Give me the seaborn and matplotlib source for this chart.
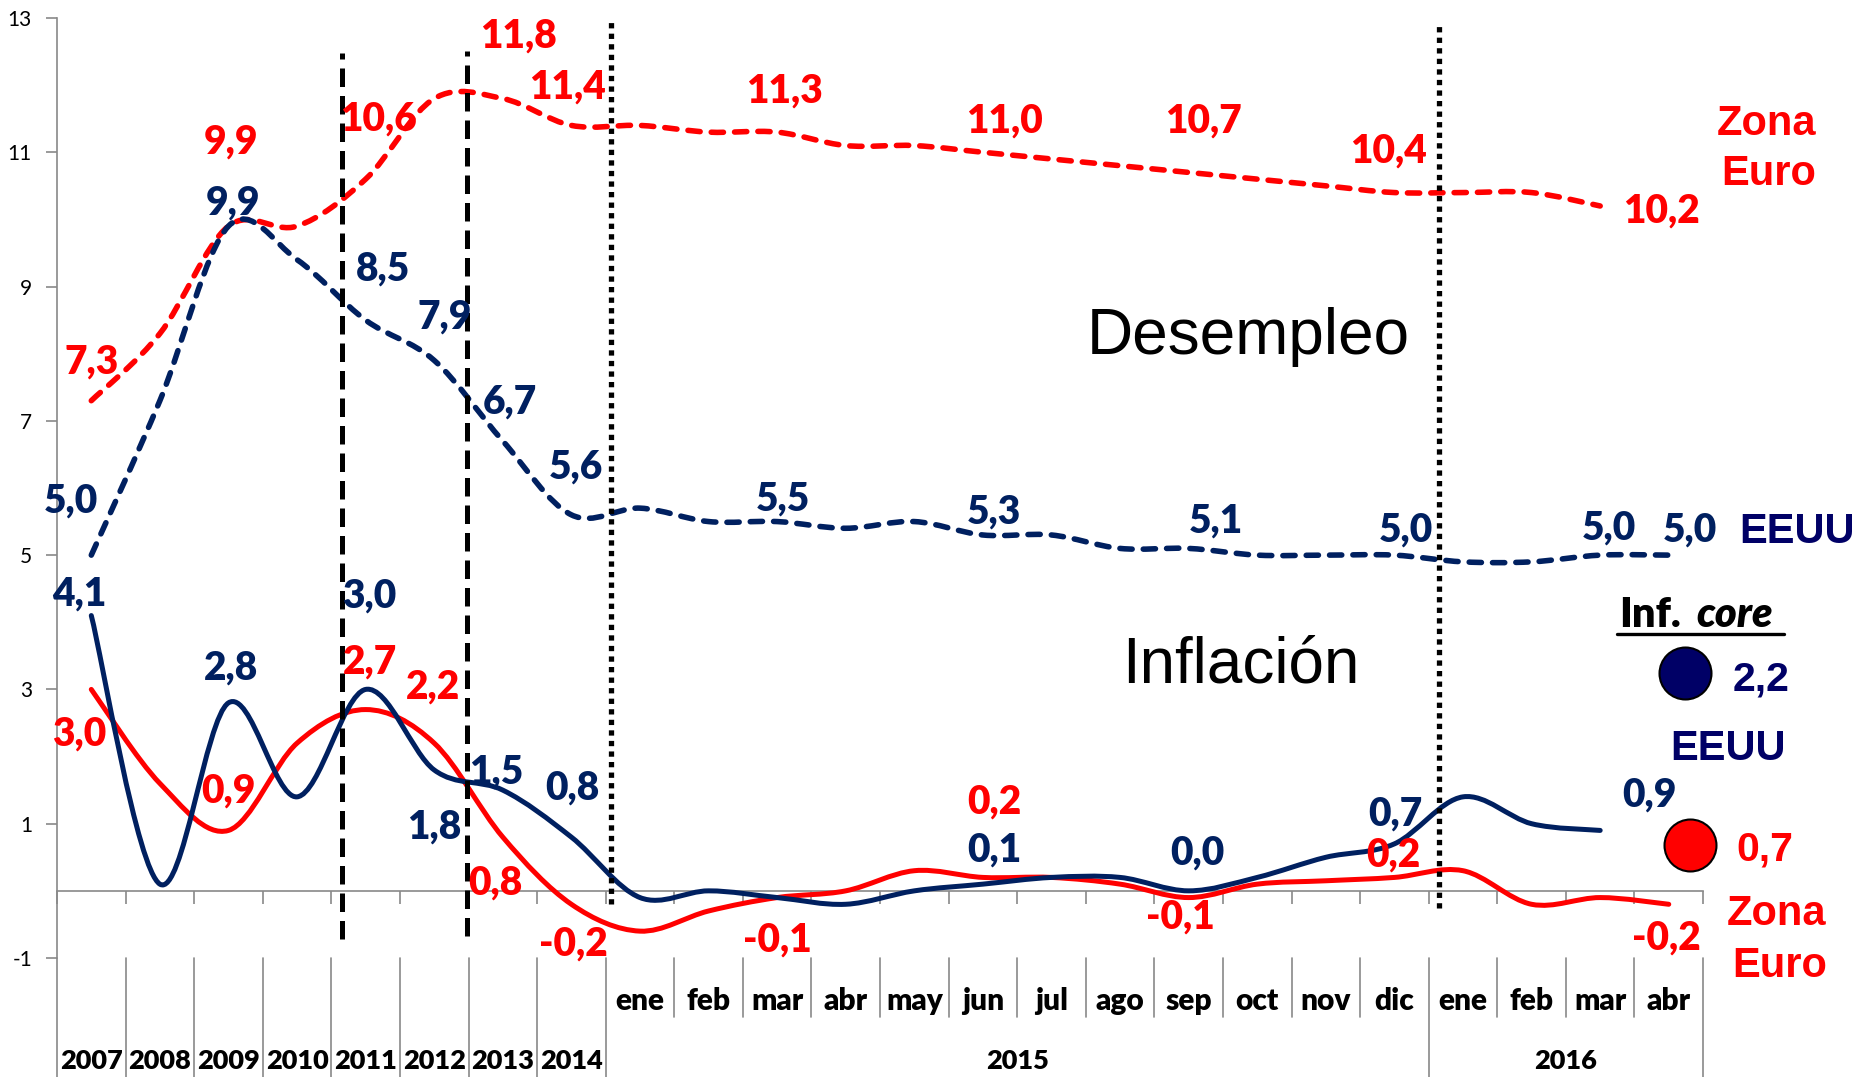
import matplotlib
matplotlib.use("Agg")
import matplotlib.pyplot as plt
import matplotlib.transforms as mtransforms
import numpy as np
import pandas as pd
import seaborn as sns
from matplotlib.lines import Line2D
from matplotlib.patches import PathPatch
from matplotlib.path import Path

# -------------------------------------------------------------------
# datos (diciembre de cada año 2007-2014, luego mensual)
# -------------------------------------------------------------------
anios = ["2007", "2008", "2009", "2010", "2011", "2012", "2013", "2014"]
meses_2015 = ["ene", "feb", "mar", "abr", "may", "jun", "jul", "ago", "sep", "oct", "nov", "dic"]
meses_2016 = ["ene", "feb", "mar", "abr"]
categorias = anios + meses_2015 + meses_2016

desempleo_ze = [7.3, 8.3, 9.9, 9.9, 10.6, 11.8, 11.8, 11.4,
                11.4, 11.3, 11.3, 11.1, 11.1, 11.0, 10.9, 10.8, 10.7, 10.6, 10.5, 10.4,
                10.4, 10.4, 10.2]
desempleo_us = [5.0, 7.3, 9.9, 9.4, 8.5, 7.9, 6.7, 5.6,
                5.7, 5.5, 5.5, 5.4, 5.5, 5.3, 5.3, 5.1, 5.1, 5.0, 5.0, 5.0,
                4.9, 4.9, 5.0, 5.0]
inflacion_us = [4.1, 0.1, 2.8, 1.4, 3.0, 1.8, 1.5, 0.8,
                -0.1, 0.0, -0.1, -0.2, 0.0, 0.1, 0.2, 0.2, 0.0, 0.2, 0.5, 0.7,
                1.4, 1.0, 0.9]
inflacion_ze = [3.0, 1.6, 0.9, 2.2, 2.7, 2.2, 0.8, -0.2,
                -0.6, -0.3, -0.1, 0.0, 0.3, 0.2, 0.2, 0.1, -0.1, 0.1, 0.15, 0.2,
                0.3, -0.2, -0.1, -0.2]
core_us = 2.2
core_ze = 0.7

NAVY = "#002060"
NAVY2 = "#000066"
ROJO = "#FF0000"
GRIS = "#898989"

# -------------------------------------------------------------------
# etiquetas: índice -> desplazamiento (px) del centro del texto
# -------------------------------------------------------------------
etiquetas = {
    "des_ze": {0: (0, 41), 2: (3, 87), 4: (13, 63), 6: (16, 65), 7: (-4, 41), 10: (7, 44),
               13: (22, 34), 16: (15, 54), 19: (-6, 44), 22: (61, -3)},
    "des_us": {0: (-20, 57), 2: (5, 26), 4: (17, 54), 5: (10, 46), 6: (7, 41), 7: (5, 50),
               10: (6, 25), 13: (11, 25), 16: (27, 30), 19: (11, 28), 22: (9, 30), 23: (21, 28)},
    "inf_us": {0: (-12, 24), 2: (3, 37), 4: (4, 96), 5: (0, -55), 6: (-7, 21), 7: (1, 52),
               13: (11, 37), 16: (9, 40), 19: (1, 32), 22: (49, 38)},
    "inf_ze": {0: (-12, -42), 2: (0, 42), 4: (4, 50), 5: (-1, 59), 6: (-7, -43), 7: (2, -37),
               10: (0, -40), 13: (11, 78), 16: (-8, -17), 19: (-1, 25), 23: (-2, -31)},
}

series = [
    ("des_ze", desempleo_ze, ROJO, "dashed"),
    ("des_us", desempleo_us, NAVY, "dashed"),
    ("inf_ze", inflacion_ze, ROJO, "solid"),
    ("inf_us", inflacion_us, NAVY, "solid"),
]

df = pd.concat(
    [pd.DataFrame({"serie": nombre, "x": np.arange(len(vals)), "valor": vals})
     for nombre, vals, _, _ in series],
    ignore_index=True,
)


def smooth_path(xs, ys):
    """curva suavizada tipo Excel (Bezier Catmull-Rom)"""
    pts = np.column_stack([xs, ys]).astype(float)
    n = len(pts)
    verts, codes = [pts[0]], [Path.MOVETO]
    for i in range(n - 1):
        p0, p1 = pts[max(i - 1, 0)], pts[i]
        p2, p3 = pts[i + 1], pts[min(i + 2, n - 1)]
        verts += [p1 + (p2 - p0) / 6, p2 - (p3 - p1) / 6, p2]
        codes += [Path.CURVE4] * 3
    return Path(verts, codes)


def fmt(v):
    return f"{v:.1f}".replace(".", ",")


sns.set_theme(style="white")
plt.rcParams["font.family"] = ["Lato", "DejaVu Sans"]
plt.rcParams["axes.unicode_minus"] = False
plt.rcParams["text.color"] = "black"

DPI = 100
fig = plt.figure(figsize=(18.72, 10.77), dpi=DPI)
ax = fig.add_axes([0.03045, 0.1105, 0.8793, 0.8728])
ax.set_xlim(-0.5, len(categorias) - 0.5)
ax.set_ylim(-1, 13)

# ejes estilo Excel
for s in ["top", "right"]:
    ax.spines[s].set_visible(False)
ax.spines["left"].set_color(GRIS)
ax.spines["left"].set_linewidth(1.2)
ax.spines["bottom"].set_position(("data", 0))
ax.spines["bottom"].set_color(GRIS)
ax.spines["bottom"].set_linewidth(1.2)
ax.set_yticks(range(-1, 14, 2))
ax.set_yticklabels([str(t) for t in range(-1, 14, 2)])
ax.tick_params(axis="y", length=8, width=1.2, color=GRIS, labelsize=15, pad=10,
               direction="out", labelcolor="black", left=True)
ax.set_xticks(np.arange(-0.5, len(categorias), 1))
ax.tick_params(axis="x", length=9, width=1.2, color=GRIS, direction="out",
               labelbottom=False, bottom=True)
ax.grid(False)

# líneas suavizadas
for nombre, vals, color, estilo in series:
    sub = df[df["serie"] == nombre]
    if estilo == "dashed":
        patch = PathPatch(smooth_path(sub["x"], sub["valor"]), fill=False, edgecolor=color,
                          lw=4.0, linestyle=(0, (2.2, 2.0)), capstyle="round", zorder=3)
    else:
        patch = PathPatch(smooth_path(sub["x"], sub["valor"]), fill=False, edgecolor=color,
                          lw=3.6, capstyle="round", joinstyle="round", zorder=3)
    ax.add_patch(patch)

# líneas verticales de referencia
for xv, y0, y1 in [(3.658, -0.72, 12.48), (5.475, -0.67, 12.51)]:
    ax.plot([xv, xv], [y0, y1], color="black", lw=3.6, linestyle=(0, (3.7, 1.8)),
            solid_capstyle="butt", dash_capstyle="butt", zorder=4)
for xv, y0, y1 in [(7.578, -0.20, 12.99), (19.644, -0.25, 12.93)]:
    ax.plot([xv, xv], [y0, y1], color="black", lw=3.8, linestyle=(0, (1.0, 1.0)),
            dash_capstyle="butt", zorder=4)

# etiquetas de datos
LBL = 28
em_px = LBL * DPI / 72
for nombre, vals, color, _ in series:
    for i, (dx, dy) in etiquetas[nombre].items():
        ax.annotate(fmt(vals[i]), xy=(i, vals[i]), xytext=(dx, dy - 0.36 * em_px),
                    textcoords="offset pixels", ha="center", va="baseline",
                    fontsize=LBL, fontweight="heavy", color=color, zorder=6)

# eje de categorías en dos niveles
trans = mtransforms.blended_transform_factory(ax.transData, ax.transAxes)
n = len(categorias)
largos = set(range(0, 9)) | {20, 24}
for b in range(n + 1):
    y_fin = -0.1266 if b in largos else -0.0628
    ax.add_line(Line2D([b - 0.5, b - 0.5], [0, y_fin], transform=trans, color=GRIS,
                       lw=1.2, clip_on=False))
for i, lab in enumerate(categorias):
    es_anio = i < len(anios)
    ax.text(i, -0.1181 if es_anio else -0.0553, lab, transform=trans, ha="center",
            va="baseline", fontsize=19.5 if es_anio else 21.5, fontweight="heavy",
            color="black")
for lab, i0, i1 in [("2015", 8, 19), ("2016", 20, 23)]:
    ax.text((i0 + i1) / 2, -0.1181, lab, transform=trans, ha="center", va="baseline",
            fontsize=19.5, fontweight="heavy", color="black")

# textos de la derecha y títulos
arial = ["Liberation Sans", "DejaVu Sans"]
ta = ax.transAxes
ax.text(0.6255, 0.643, "Desempleo", transform=ta, fontsize=46, family=arial,
        ha="left", va="baseline", color="black")
ax.text(0.6470, 0.2929, "Inflación", transform=ta, fontsize=46, family=arial,
        ha="left", va="baseline", color="black")
for txt, x, y, col in [("Zona", 1.0383, 0.8755, ROJO), ("Euro", 1.0401, 0.8223, ROJO),
                       ("EEUU", 1.0571, 0.4415, NAVY2), ("EEUU", 1.0152, 0.2106, NAVY2),
                       ("Zona", 1.0447, 0.0351, ROJO), ("Euro", 1.0468, -0.0197, ROJO)]:
    ax.text(x, y, txt, transform=ta, fontsize=30, family=arial, fontweight="bold",
            color=col, ha="center", va="baseline", clip_on=False)

# inflación core
ax.text(0.9490, 0.3526, "Inf.", transform=ta, fontsize=30, fontweight="heavy",
        ha="left", va="baseline", color="black")
ax.text(0.9958, 0.3526, "core", transform=ta, fontsize=30, fontweight="heavy",
        style="italic", ha="left", va="baseline", color="black")
ax.add_line(Line2D([0.9478, 1.0492], [0.345, 0.345], transform=ta, color="black",
                   lw=2.4, clip_on=False))
ax.scatter([0.9888], [0.3032], s=1400, color=NAVY2, edgecolor="black", linewidth=1.5,
           transform=ta, clip_on=False, zorder=6)
ax.scatter([0.9921], [0.1202], s=1400, color=ROJO, edgecolor="black", linewidth=1.5,
           transform=ta, clip_on=False, zorder=6)
ax.text(1.0355, 0.2846, fmt(core_us), transform=ta, fontsize=29.5, family=arial,
        fontweight="bold", color=NAVY2, ha="center", va="baseline")
ax.text(1.0377, 0.1032, fmt(core_ze), transform=ta, fontsize=29.5, family=arial,
        fontweight="bold", color=ROJO, ha="center", va="baseline")

fig.savefig("out.png", dpi=DPI)
